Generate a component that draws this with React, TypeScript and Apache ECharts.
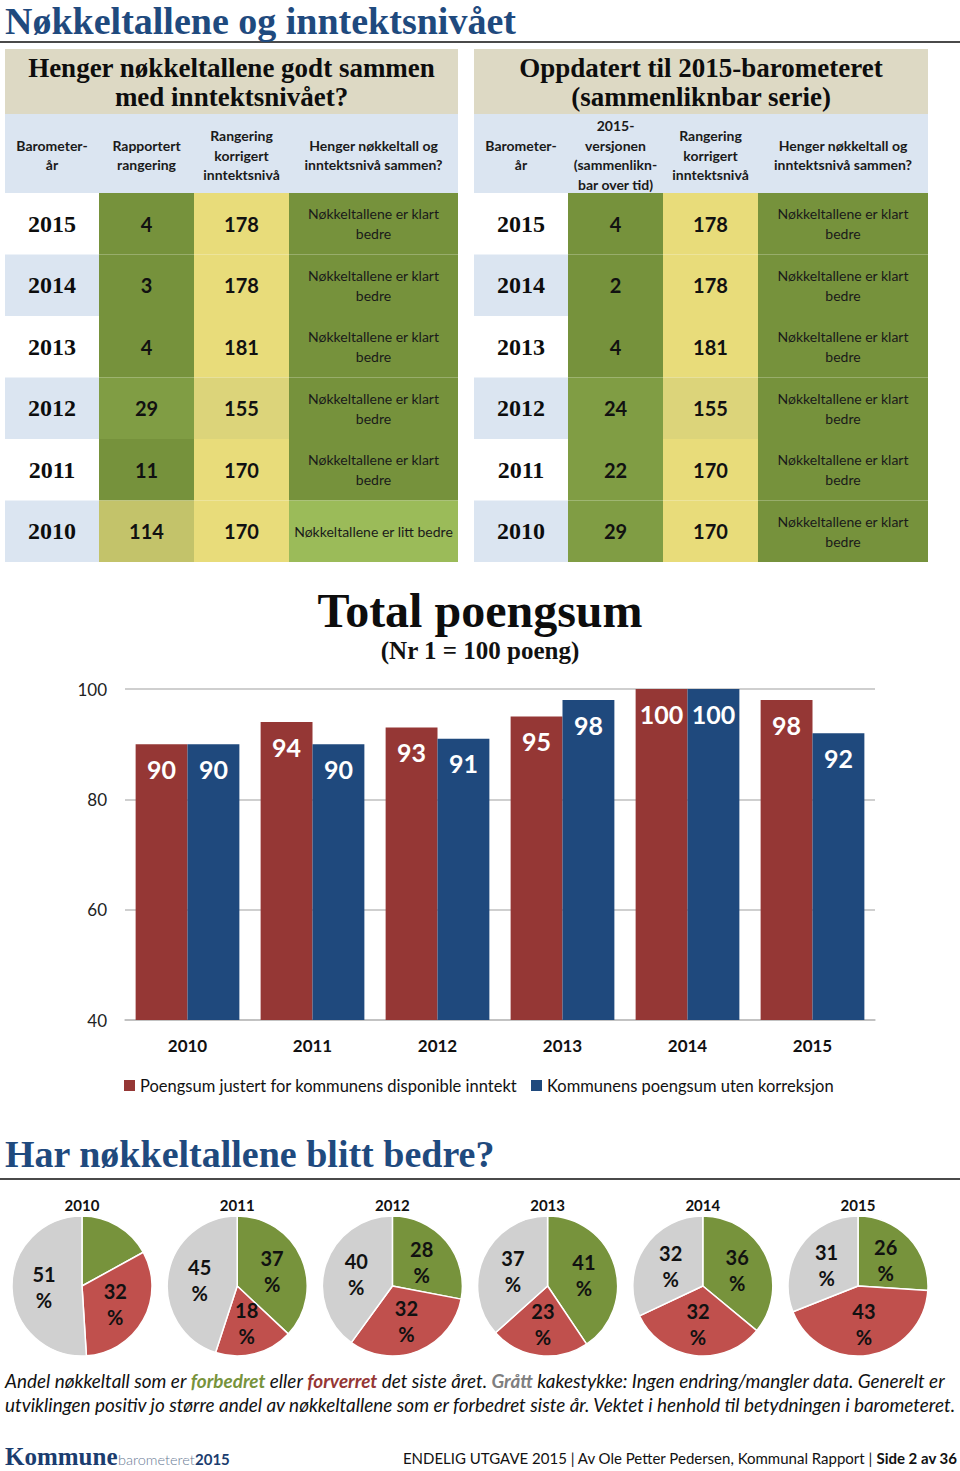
import React, { useEffect, useRef } from 'react';
import * as echarts from 'echarts';

// ---------- data ----------
const tableYears = ['2015', '2014', '2013', '2012', '2011', '2010'];
const reportedRank = [4, 3, 4, 29, 11, 114];
const correctedRankLeft = [178, 178, 181, 155, 170, 170];
const verdictLeft = [
  'Nøkkeltallene er klart\nbedre',
  'Nøkkeltallene er klart\nbedre',
  'Nøkkeltallene er klart\nbedre',
  'Nøkkeltallene er klart\nbedre',
  'Nøkkeltallene er klart\nbedre',
  'Nøkkeltallene er litt bedre',
];
const comparableRank = [4, 2, 4, 24, 22, 29];
const correctedRankRight = [178, 178, 181, 155, 170, 170];
const verdictRight = [
  'Nøkkeltallene er klart\nbedre',
  'Nøkkeltallene er klart\nbedre',
  'Nøkkeltallene er klart\nbedre',
  'Nøkkeltallene er klart\nbedre',
  'Nøkkeltallene er klart\nbedre',
  'Nøkkeltallene er klart\nbedre',
];
const leftTitle = ['Henger nøkkeltallene godt sammen', 'med inntektsnivået?'];
const rightTitle = ['Oppdatert til 2015-barometeret', '(sammenliknbar serie)'];
const leftHeaders = ['Barometer-\når', 'Rapportert\nrangering', 'Rangering\nkorrigert\ninntektsnivå', 'Henger nøkkeltall og\ninntektsnivå sammen?'];
const rightHeaders = ['Barometer-\når', '2015-\nversjonen\n(sammenlikn-\nbar over tid)', 'Rangering\nkorrigert\ninntektsnivå', 'Henger nøkkeltall og\ninntektsnivå sammen?'];

const barYears = ['2010', '2011', '2012', '2013', '2014', '2015'];
const adjustedScore = [90, 94, 93, 95, 100, 98];
const rawScore = [90, 90, 91, 98, 100, 92];
const seriesNames = ['Poengsum justert for kommunens disponible inntekt', 'Kommunens poengsum uten korreksjon'];
const yMin = 40;
const yMax = 100;
const yStep = 20;

const pieYears = ['2010', '2011', '2012', '2013', '2014', '2015'];
const improvedPct = [17, 37, 28, 41, 36, 26];
const worsenedPct = [32, 18, 32, 23, 32, 43];
const unchangedPct = [51, 45, 40, 37, 32, 31];
const sliceNames = ['Forbedret', 'Forverret', 'Uendret'];

// ---------- styles ----------
const SANS = 'Lato, "Open Sans", "Noto Sans", sans-serif';
const SERIF = '"Liberation Serif", "DejaVu Serif", serif';
const BLUE_HEAD = '#1f4a7e';
const TAN = '#ddd9c4';
const LIGHTBLUE = '#dbe5f1';
const GREEN = '#76923c';
const RED_BAR = '#953735';
const BLUE_BAR = '#1f497d';
const PIE_GREEN = '#77933c';
const PIE_RED = '#c0504d';
const PIE_GREY = '#d0d0d0';

function rankColor(v: number) {
  if (v <= 11) return GREEN;
  if (v <= 30) return '#809d44';
  return '#c3c36a';
}
function correctedColor(v: number) {
  return v < 160 ? '#dcd47a' : '#e8dc7a';
}
function verdictColor(t: string) {
  return t.indexOf('litt') >= 0 ? '#9bbb59' : GREEN;
}

function txt(x: number, y: number, text: string, o: any = {}) {
  const align = o.align || 'center';
  return {
    type: 'text',
    x,
    y,
    silent: true,
    z: 10,
    style: {
      text,
      fill: o.fill || '#111',
      fontSize: o.fontSize || 14,
      fontFamily: o.fontFamily || SANS,
      fontWeight: o.fontWeight || 'normal',
      fontStyle: o.fontStyle || 'normal',
      lineHeight: o.lineHeight,
      align,
      textAlign: align,
      verticalAlign: 'middle',
      textVerticalAlign: 'middle',
      rich: o.rich,
    },
  };
}
function rect(x: number, y: number, w: number, h: number, fill: string) {
  return { type: 'rect', silent: true, z: 5, shape: { x, y, width: w, height: h }, style: { fill } };
}
function hline(y: number, x1: number, x2: number) {
  return { type: 'line', silent: true, z: 5, shape: { x1, y1: y, x2, y2: y }, style: { stroke: '#4a4a4a', lineWidth: 2 } };
}

function buildTable(colX: number[], title: string[], headers: string[], rank: number[], corrected: number[], verdict: string[]) {
  const els: any[] = [];
  const x0 = colX[0];
  const x1 = colX[4];
  const cx = (x0 + x1) / 2;
  els.push(rect(x0, 49, x1 - x0, 65, TAN));
  els.push(txt(cx, 82, title.join('\n'), { fontFamily: SERIF, fontWeight: 'bold', fontSize: 27, lineHeight: 29, fill: '#0d0d0d' }));
  els.push(rect(x0, 114, x1 - x0, 79, LIGHTBLUE));
  headers.forEach((h, j) => {
    els.push(txt((colX[j] + colX[j + 1]) / 2, 155, h, { fontWeight: 'bold', fontSize: 14, lineHeight: 19.7, fill: '#1a1a1a' }));
  });
  const rowH = 61.5;
  tableYears.forEach((yr, i) => {
    const top = 193 + i * rowH;
    const mid = top + rowH / 2;
    if (i % 2 === 1) els.push(rect(colX[0], top, colX[1] - colX[0], rowH, LIGHTBLUE));
    els.push(rect(colX[1], top, colX[2] - colX[1], rowH, rankColor(rank[i])));
    els.push(rect(colX[2], top, colX[3] - colX[2], rowH, correctedColor(corrected[i])));
    els.push(rect(colX[3], top, colX[4] - colX[3], rowH, verdictColor(verdict[i])));
    els.push(txt((colX[0] + colX[1]) / 2, mid, yr, { fontFamily: SERIF, fontWeight: 'bold', fontSize: 24, fill: '#0d0d0d' }));
    els.push(txt((colX[1] + colX[2]) / 2, mid, String(rank[i]), { fontWeight: 'bold', fontSize: 20, fill: '#111' }));
    els.push(txt((colX[2] + colX[3]) / 2, mid, String(corrected[i]), { fontWeight: 'bold', fontSize: 20, fill: '#111' }));
    els.push(txt((colX[3] + colX[4]) / 2, mid, verdict[i], { fontSize: 14, lineHeight: 20, fill: '#1a1a1a' }));
  });
  return els;
}

function buildGraphic() {
  const els: any[] = [];
  els.push(txt(5, 21, 'Nøkkeltallene og inntektsnivået', { align: 'left', fontFamily: SERIF, fontWeight: 'bold', fontSize: 38, fill: BLUE_HEAD }));
  els.push(hline(42, 0, 960));
  els.push(...buildTable([5, 99, 194, 289, 458], leftTitle, leftHeaders, reportedRank, correctedRankLeft, verdictLeft));
  els.push(...buildTable([474, 568, 663, 758, 928], rightTitle, rightHeaders, comparableRank, correctedRankRight, verdictRight));

  els.push(txt(480, 610, 'Total poengsum', { fontFamily: SERIF, fontWeight: 'bold', fontSize: 48, fill: '#0d0d0d' }));
  els.push(txt(480, 650, '(Nr 1 = 100 poeng)', { fontFamily: SERIF, fontWeight: 'bold', fontSize: 25, fill: '#111' }));

  els.push(txt(5, 1154, 'Har nøkkeltallene blitt bedre?', { align: 'left', fontFamily: SERIF, fontWeight: 'bold', fontSize: 38, fill: BLUE_HEAD }));
  els.push(hline(1179, 0, 960));
  pieYears.forEach((yr, i) => {
    els.push(txt(82 + i * 155.2, 1205, yr, { fontWeight: 'bold', fontSize: 15, fill: '#111' }));
  });

  const CAP = 18.9;
  const capRich = {
    g: { fontSize: CAP, fontStyle: 'italic', fontWeight: 'bold', fill: '#77933c', fontFamily: SANS },
    r: { fontSize: CAP, fontStyle: 'italic', fontWeight: 'bold', fill: '#953735', fontFamily: SANS },
    s: { fontSize: CAP, fontStyle: 'italic', fontWeight: 'bold', fill: '#7f7f7f', fontFamily: SANS },
  };
  els.push(txt(5, 1380, 'Andel nøkkeltall som er {g|forbedret} eller {r|forverret} det siste året. {s|Grått} kakestykke: Ingen endring/mangler data. Generelt er', { align: 'left', fontStyle: 'italic', fontSize: CAP, fill: '#111', rich: capRich }));
  els.push(txt(5, 1404, 'utviklingen positiv jo større andel av nøkkeltallene som er forbedret siste år. Vektet i henhold til betydningen i barometeret.', { align: 'left', fontStyle: 'italic', fontSize: CAP, fill: '#111' }));

  els.push(txt(5, 1456, 'Kommune', { align: 'left', fontFamily: SERIF, fontWeight: 'bold', fontSize: 25, fill: '#1b3d6f' }));
  els.push(txt(118, 1459, 'barometeret', { align: 'left', fontWeight: '300', fontSize: 14.5, fill: '#6a7b95' }));
  els.push(txt(195, 1459, '2015', { align: 'left', fontWeight: 'bold', fontSize: 15, fill: '#1b3d6f' }));
  els.push(txt(957, 1458, 'ENDELIG UTGAVE 2015 | Av Ole Petter Pedersen, Kommunal Rapport | {b|Side 2 av 36}', {
    align: 'right', fontSize: 15, fill: '#111',
    rich: { b: { fontWeight: 'bold', fontSize: 15, fill: '#111', fontFamily: SANS } },
  }));
  return els;
}

function buildOption() {
  const barLabel = { show: true, position: 'insideTop', distance: 12, color: '#fff', fontSize: 25, fontWeight: 'bold', fontFamily: SANS };
  const pies = pieYears.map((yr, i) => ({
    type: 'pie',
    name: yr,
    silent: true,
    center: [82 + i * 155.2, 1286],
    radius: [0, 70],
    startAngle: 90,
    clockwise: true,
    label: { show: true, position: 'inner', formatter: '{c}\n%', fontSize: 20, fontWeight: 'bold', color: '#111', lineHeight: 26, fontFamily: SANS },
    labelLine: { show: false },
    itemStyle: { borderColor: '#fff', borderWidth: 1.5 },
    emphasis: { disabled: true },
    data: [
      { name: sliceNames[0], value: improvedPct[i], itemStyle: { color: PIE_GREEN } },
      { name: sliceNames[1], value: worsenedPct[i], itemStyle: { color: PIE_RED } },
      { name: sliceNames[2], value: unchangedPct[i], itemStyle: { color: PIE_GREY } },
    ],
  }));
  return {
    animation: false,
    backgroundColor: '#fff',
    textStyle: { fontFamily: SANS },
    grid: { left: 125, top: 689, width: 750, height: 331 },
    legend: {
      left: 119, top: 1072, itemWidth: 11, itemHeight: 11, itemGap: 14, icon: 'rect',
      textStyle: { fontSize: 16.5, color: '#111', fontFamily: SANS },
      data: seriesNames,
    },
    xAxis: {
      type: 'category', data: barYears,
      axisLine: { lineStyle: { color: '#bfbfbf', width: 1.5 } },
      axisTick: { show: false },
      axisLabel: { fontSize: 17, fontWeight: 'bold', color: '#111', margin: 17, fontFamily: SANS },
    },
    yAxis: {
      type: 'value', min: yMin, max: yMax, interval: yStep,
      axisLine: { show: false }, axisTick: { show: false },
      splitLine: { lineStyle: { color: '#bfbfbf', width: 1.5 } },
      axisLabel: { fontSize: 17, color: '#222', margin: 18, fontFamily: SANS },
    },
    series: [
      { type: 'bar', name: seriesNames[0], data: adjustedScore, silent: true, barGap: '0%', barCategoryGap: '17%', itemStyle: { color: RED_BAR }, label: barLabel },
      { type: 'bar', name: seriesNames[1], data: rawScore, silent: true, barGap: '0%', barCategoryGap: '17%', itemStyle: { color: BLUE_BAR }, label: barLabel },
      ...pies,
    ],
    graphic: { elements: buildGraphic() },
  };
}

export default function App() {
  const ref = useRef<HTMLDivElement>(null);
  useEffect(() => {
    document.body.style.margin = '0';
    const chart = echarts.init(ref.current!, null, { renderer: 'svg', width: 960, height: 1471 });
    chart.setOption(buildOption() as any);
    return () => chart.dispose();
  }, []);
  return <div ref={ref} style={{ position: 'absolute', left: 0, top: 0, width: 960, height: 1471, background: '#fff' }} />;
}
